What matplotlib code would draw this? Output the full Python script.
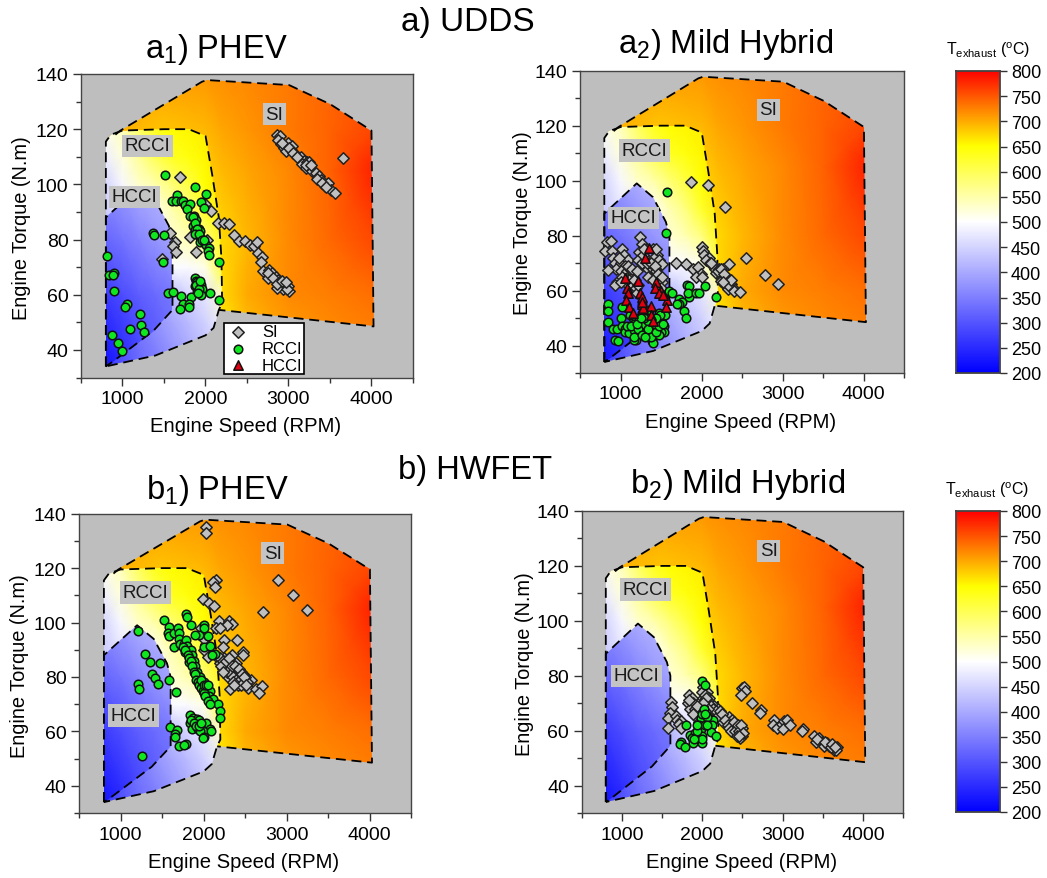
import numpy as np
import matplotlib
matplotlib.use("Agg")
import matplotlib.pyplot as plt
from matplotlib.colors import LinearSegmentedColormap
from matplotlib.path import Path
from matplotlib.ticker import MultipleLocator

W, H = 1047, 879
plt.rcParams['font.family'] = ['Liberation Sans', 'DejaVu Sans']
plt.rcParams['mathtext.fontset'] = 'custom'
plt.rcParams['mathtext.rm'] = 'Liberation Sans'
plt.rcParams['mathtext.it'] = 'Liberation Sans'
plt.rcParams['mathtext.default'] = 'regular'

# ---- temperature fields (deg C) ----
si_speed = [800, 1500, 2000, 2200, 2500, 3000, 3500, 4050]
si_torque = [45, 50, 60, 80, 105, 120, 140]
si_temp = [
    [650, 650, 650, 658, 682, 705, 718, 725],
    [650, 650, 650, 662, 690, 710, 720, 728],
    [650, 650, 650, 672, 700, 718, 725, 735],
    [650, 650, 660, 672, 692, 718, 738, 758],
    [665, 668, 678, 690, 702, 720, 742, 782],
    [700, 685, 692, 702, 712, 728, 742, 760],
    [708, 708, 712, 716, 720, 728, 740, 750],
]
rcci_speed = [800, 1000, 1200, 1400, 1600, 1800, 2000, 2250]
rcci_torque = [30, 40, 50, 60, 70, 80, 90, 100, 110, 120]
rcci_temp = [
    [260, 290, 320, 340, 365, 390, 420, 440],
    [270, 300, 330, 350, 375, 400, 430, 450],
    [290, 320, 345, 370, 395, 420, 445, 490],
    [320, 350, 375, 400, 420, 450, 470, 545],
    [360, 390, 415, 440, 495, 495, 515, 635],
    [400, 430, 450, 475, 525, 545, 575, 655],
    [440, 470, 485, 505, 545, 575, 625, 665],
    [450, 490, 530, 550, 580, 612, 648, 670],
    [480, 520, 560, 600, 630, 642, 655, 675],
    [510, 540, 590, 630, 650, 655, 660, 680],
]
hcci_speed = [800, 1000, 1200, 1400, 1650]
hcci_torque = [30, 40, 60, 80, 100]
hcci_temp = [
    [220, 235, 255, 275, 300],
    [235, 255, 280, 300, 325],
    [270, 290, 310, 325, 345],
    [320, 335, 355, 375, 395],
    [370, 385, 405, 415, 425],
]

# ---- combustion-regime boundaries (RPM, N.m) ----
si_boundary_speed = [915, 975, 1960, 2020, 3010, 3510, 4005, 4030, 2165]
si_boundary_torque = [118, 119.5, 137.2, 137.8, 136, 129, 119.5, 48.5, 54.5]
rcci_boundary_speed = [800, 800, 860, 1000, 1500, 1800, 2003, 2083, 2163, 2195, 2203, 2163, 2100, 2003, 1400, 800]
rcci_boundary_torque = [34, 115.5, 118, 119.5, 120, 120, 117.5, 103.5, 88, 73, 57, 54.5, 48, 45.3, 38, 34]
hcci_boundary_speed = [800, 800, 1200, 1400, 1560, 1604, 1604, 1376, 895, 800]
hcci_boundary_torque = [34, 88, 99, 94, 85, 80, 54.5, 47, 36, 34]

# ---- operating points ----
a1_si_speed = [2860, 2900, 2880, 2910, 2950, 3000, 3040, 2970, 3030, 3090, 3150, 3190, 3170, 3230, 3260, 3220, 3290, 3330,
               3370, 3390, 3440, 3480, 3520, 3570, 3665, 3250, 2155, 2230, 2290, 2350, 2410, 2480, 2540, 2590, 2620, 2640,
               2690, 2670, 2700, 2770, 2810, 2760, 2850, 2880, 2900, 2940, 2890, 2960, 3000, 2940, 3010, 2860, 1700, 2000,
               2070, 1570, 1640, 1610, 1650, 1480, 1810, 1890, 2020,
               2930, 3010, 3060, 3110, 3210, 3280, 3350, 3410, 3460, 2760, 2820, 2870, 2920, 2980, 2970]
a1_si_torque = [118, 117.5, 116, 114.5, 113, 115, 114, 112, 112.5, 110.5, 110, 108.5, 107.5, 108, 106.5, 106, 105, 104,
                103, 101.5, 99.5, 100.5, 98, 97, 109.5, 108, 86, 86, 85.5, 81.5, 79.5, 79.5, 78, 77.5, 79, 75,
                73.5, 72, 68.5, 69, 68, 66, 66.5, 65.5, 64.5, 64, 63.5, 63, 63, 62, 61.5, 62.5, 102.5, 93,
                90.5, 82.5, 79, 77.5, 75.5, 73, 81, 75.5, 80,
                115, 113, 111.5, 110, 107, 107, 102, 100.5, 99, 68, 66, 64, 65, 62, 64.5]
a1_rcci_speed = [1510, 1880, 2010, 1660, 1600, 1650, 1710, 1730, 1760, 1810, 1780, 1950, 1990, 1810, 1860, 1890, 1880, 1850,
                 1870, 1920, 1940, 1900, 1930, 1950, 1930, 1980, 2010, 2050, 2030, 2050, 2160, 1370, 1380, 1500, 1490, 810,
                 835, 895, 885, 900, 1060, 1030, 1210, 1230, 1260, 1090, 870, 945, 990, 1550, 1610, 1710, 1880, 1890,
                 1900, 1930, 1950, 1880, 1900, 1960, 1900, 1950, 2060, 1830, 1730, 1800, 1690, 1800, 2170,
                 1850, 1870, 1900, 1880, 1920, 1960, 1990, 1890, 1920, 1930, 1910]
a1_rcci_torque = [103.5, 99, 96.5, 96, 94, 94, 94, 94, 92.5, 93, 91, 93.5, 91.5, 88.5, 88.5, 87, 85, 85,
                  83.5, 84, 83, 82.5, 81, 79.5, 79, 79, 78, 77, 76, 74.5, 72, 82.5, 81.5, 81.5, 72, 74,
                  67, 68, 67, 61.5, 56.5, 55.5, 53, 49, 46.5, 47.5, 45.5, 42.5, 39.5, 60.5, 61, 59.5, 66, 65,
                  64.5, 64, 63.5, 63, 62.5, 62, 61, 60, 60.5, 59, 56.5, 56.5, 55, 55.5, 58,
                  88, 86, 84, 82, 82, 80, 80, 63.5, 62, 65, 60.5]
a1_hcci_speed = []
a1_hcci_torque = []

a2_si_speed = [1870, 2085, 2290, 2550, 2790, 2950, 2340, 1680, 1810, 1900, 1960, 1990, 1930, 2010, 2010, 2020, 2030, 2090,
               2060, 2100, 2150, 2170, 2180, 2210, 2230, 2250, 2270, 2240, 2300, 2310, 2350, 2290, 2370, 2390, 2330, 2400,
               2470, 830, 880, 810, 890, 1020, 910, 1060, 1040, 930, 1000, 1090, 1050, 950, 840, 1010, 1080, 1130,
               1160, 1100, 1180, 960, 930, 1020, 1050, 1150, 1190, 1200, 1240, 1260, 1230, 1310, 1220, 1260, 1400, 1450,
               1410, 1470, 1340, 1400, 1440, 1340, 1510, 1450, 1480, 1510, 1500, 1400, 1310,
               980, 1120, 1090, 1140, 1170, 1010, 1280, 1330, 1380, 1420, 1460, 1510, 1290, 1440, 1200, 1220,
               2120, 2200, 2240, 2280, 2330, 2360, 2270]
a2_si_torque = [99.5, 98.5, 90.5, 72, 65.5, 62.3, 69.5, 70, 69.5, 68, 68.5, 66, 65, 65, 76, 74.5, 73, 72,
                71, 70, 69, 68, 66.5, 68, 66.5, 65, 68, 63.5, 65, 63, 64, 62, 62.5, 61, 60.5, 60,
                59.3, 77.5, 78, 74.5, 74.5, 75, 72, 71, 73, 70, 70, 71, 69, 68, 67.5, 67, 67, 66,
                66, 64, 64, 63, 62, 65, 63, 62, 61, 59, 79.5, 77, 74, 72, 71, 70, 75, 73,
                72, 71, 68, 68, 67, 65, 69.5, 63, 65, 63, 61, 64, 75,
                72, 68, 69, 68, 64, 63, 73, 70, 70, 69, 66, 65, 75, 75, 67, 62,
                70, 67, 68, 66, 62, 64, 63]
a2_rcci_speed = [1575, 1565, 850, 850, 850, 1020, 1010, 910, 960, 1020, 1060, 1050, 1100, 1170, 1240, 1190, 1170, 930,
                 970, 1170, 1300, 1350, 1390, 1400, 1380, 1320, 1290, 1360, 1400, 1430, 1500, 1540, 1540, 1500, 1480, 1510,
                 1550, 1470, 1150, 1120, 1170, 1230, 1260, 1300, 1340, 1260, 1350, 1600, 1640, 1720, 1760, 1720, 1780, 1810,
                 1820, 1850, 1850, 1830, 1930, 1970, 2040, 2175, 1700,
                 1080, 1130, 1210, 1270, 1290, 1340, 1440, 1470, 1520, 1200, 1300, 1490, 1440, 1250]
a2_rcci_torque = [96, 81, 55, 52.5, 48.5, 54, 50, 46, 46, 47, 46, 45, 44.5, 45.5, 47.5, 42, 42, 42,
                  41.5, 43, 45, 44.5, 41.5, 41, 43, 47, 48, 49, 47, 48, 46, 47, 45, 45, 44, 50,
                  51, 52, 50, 51, 48, 50, 52, 51, 49, 55, 53, 60, 59, 57, 56, 55, 52.5, 50,
                  62, 61.5, 57.5, 59, 59, 59, 61.5, 57.5, 55,
                  47, 47, 46, 44, 50, 46, 45, 47, 48, 48, 43, 51, 50, 50]
a2_hcci_speed = [1350, 1300, 1050, 1080, 1220, 1440, 1430, 1500, 1470, 1090, 1070, 1240, 1260, 1570, 1100, 1270, 1280, 1380,
                 1560, 1160, 1380, 1400, 1530, 1270]
a2_hcci_torque = [75.5, 72, 64.5, 61, 63.5, 63, 61, 60, 59, 59, 56.5, 59, 57.5, 56.5, 54, 55, 53.5, 54.5,
                  54, 52, 51, 49, 58.5, 56]

b1_si_speed = [2030, 2030, 2150, 2110, 2140, 1990, 2070, 2130, 2900, 3080, 3250, 2720, 2190, 2310, 2340, 2280, 2150, 1970,
               2200, 2400, 2250, 2480, 2240, 2480, 2030, 2000, 2010, 2060, 2180, 2250, 2300, 2200, 2270, 2350, 2390, 2420,
               2240, 2310, 2360, 2450, 2480, 2290, 2400, 2440, 2520, 2570, 2420, 2470, 2540, 2320, 2630, 2700, 2670, 2500, 2340,
               2200, 2230, 2260, 2290, 2320, 2350, 2380, 2410, 2440, 2470, 2500, 2530, 2250, 2280, 2330, 2360, 2390, 2420,
               2450, 2210, 2230, 2270, 2310, 2340, 2380, 2430, 2460, 2490, 2510, 2350, 2370]
b1_si_torque = [135, 133, 115.5, 115, 113, 108.5, 107, 106, 115.5, 110, 104.5, 104, 100.5, 100.5, 99.5, 99, 98, 98,
                98, 93.5, 93.5, 89, 91, 88, 92, 94, 90, 87.5, 87, 87, 86, 85, 84, 85, 85, 83,
                83, 82, 82, 82, 81, 80, 80, 79, 79, 79, 77, 78, 76, 75.5, 75.5, 76.5, 74, 80, 88,
                87, 86, 85, 84, 85, 83, 82, 81, 80, 79, 78, 78, 83, 82, 81, 80, 79, 78,
                77, 84, 82, 86, 87, 84, 84, 83, 81, 80, 77, 78, 77]
b1_rcci_speed = [1210, 1300, 1350, 1480, 1380, 1420, 1450, 1585, 1210, 1225, 1670, 1260, 1520, 1580, 1570, 1590, 1650, 1690,
                 1710, 1640, 1700, 1720, 1770, 1790, 1800, 1780, 1850, 1860, 1880, 1830, 1880, 1900, 1920, 1940, 1960, 1960,
                 1990, 2020, 2010, 2040, 2040, 2080, 2070, 2110, 2170, 2200, 2200, 1790, 1800, 1850, 1950, 1900, 2010, 2010,
                 2060, 2000, 2080, 2140, 2100, 1840, 1870, 1920, 1950, 1840, 1890, 2030, 1960, 1860, 1930, 2080, 1990, 2090,
                 1960, 2000, 1990, 1600, 1680, 1660, 1660, 1710, 1790, 1760,
                 1750, 1780, 1810, 1830, 1850, 1860, 1880, 1900, 1910, 1930, 1950, 1970, 1990, 2000, 2020, 2050, 2080,
                 1970, 2000, 2030, 2060, 1850, 1880, 1910, 1940, 1970]
b1_rcci_torque = [97, 88.5, 85.5, 85, 81, 79.5, 77.5, 79, 77.5, 75.5, 74.5, 51, 101, 98.5, 96, 95, 96, 98,
                  96, 91, 94, 92, 92, 93.5, 91.5, 89, 90, 88, 86, 85.5, 84, 84, 82, 80, 80, 78,
                  77, 76, 78, 75, 73, 75, 73, 72, 70, 67.5, 65, 103, 102, 99, 95.5, 95.5, 99, 98,
                  95, 91, 91.5, 88.5, 88, 66, 65, 64.5, 64, 63, 62.5, 63, 62, 61, 61, 61, 60, 60,
                  60, 58, 57.5, 61.5, 60.5, 59, 58, 54.5, 55.5, 55,
                  91, 90, 88, 87, 86, 84, 82, 81, 79, 78, 77, 76, 75, 74, 73, 71, 70,
                  79, 77, 77, 77, 64, 63, 62, 62, 63]
b1_hcci_speed = []
b1_hcci_torque = []

b2_si_speed = [1610, 1630, 1600, 1580, 1670, 1690, 1740, 1710, 1580, 1740, 1830, 1870, 1820, 1880, 1850, 1910, 1940, 1970,
               1920, 2000, 1960, 2010, 2020, 2060, 2010, 2040, 2090, 2060, 2100, 2150, 2200, 2240, 2180, 2270, 2300, 2330,
               2350, 2370, 2400, 2430, 2480, 2500, 2450, 2490, 2470, 2500, 2520, 2530, 2480, 2620, 2730, 2720, 2890, 2880,
               2930, 2990, 3020, 3050, 3000, 3090, 3250, 3240, 3390, 3450, 3420, 3490, 3560, 3520, 3580, 3640, 3680, 3670,
               2110, 2130, 2170, 2190, 2220, 2250, 2260, 2290, 2320, 2340, 2360, 2390, 2410, 2440, 2460, 2480, 2510,
               2000, 2030, 2050, 2070, 2000, 2030, 2010, 1930, 1890, 1840, 2430, 2460, 3430, 3530, 3600, 3620, 3650]
b2_si_torque = [70.5, 68.5, 66.5, 64.5, 65.5, 64, 63.5, 62.5, 61, 61, 73, 72, 70, 70, 68, 68, 67, 68,
                65, 65, 63, 76, 74, 74, 72, 71, 72, 70, 70, 69, 68, 66, 66, 65, 64, 65,
                63, 64, 62, 61, 60, 61, 59, 58, 57.5, 75.5, 76, 74.5, 73, 70, 67.5, 66.5, 64, 62,
                61, 62.5, 63.5, 64, 60.5, 62, 60.5, 60, 58, 57.5, 56, 56, 55.5, 54.5, 54.5, 53, 54, 53,
                69, 68, 67, 65, 67, 66, 63, 64, 62, 61, 60, 63, 60, 62, 60, 62, 59,
                74, 73, 72, 68, 69, 67, 70, 69, 66, 71, 58, 58, 57, 56, 54, 55, 54]
b2_rcci_speed = [2000, 2040, 2130, 1990, 2060, 2120, 1800, 1960, 1990, 2030, 1850, 1910, 1870, 2000, 2110, 2170, 1740, 1720,
                 1890, 2000, 1790, 1930, 2000, 1930, 2060, 2000, 2020, 2040, 1900]
b2_rcci_torque = [78, 76.5, 64, 64.5, 65, 62, 62, 62, 60.5, 62, 58.5, 59, 57.5, 58, 59.5, 58, 56, 55,
                  55.5, 55.5, 54, 60, 57, 62, 62, 66, 68, 66, 57]
b2_hcci_speed = []
b2_hcci_torque = []

cbar_ticks = list(range(200, 801, 50))

cmap = LinearSegmentedColormap.from_list(
    "texh", [(0, "#0000ff"), (0.5, "#ffffff"), (0.75, "#ffff00"), (1, "#ff0000")], N=512)
norm = plt.Normalize(200, 800)

fig = plt.figure(figsize=(W / 100, H / 100), dpi=100)


def add_box(left, top, right, bottom):
    return fig.add_axes([left / W, 1 - bottom / H, (right - left) / W, (bottom - top) / H])


def fill_region(ax, sp, tq, temp, bs, bt):
    mesh = ax.pcolormesh(sp, tq, np.array(temp, float), cmap=cmap, norm=norm, shading='gouraud', zorder=1)
    mesh.set_clip_path(Path(np.column_stack([bs, bt])), ax.transData)


def panel(box, si, rcci, hcci, labels, label_at, title, title_xy, xl_xy, yl_xy, legend=False):
    ax = add_box(*box)
    ax.set_facecolor("#bebebe")
    ax.set_xlim(500, 4500)
    ax.set_ylim(30, 140)
    fill_region(ax, si_speed, si_torque, si_temp,
                si_boundary_speed + [rcci_boundary_speed[0]] + [800, 860],
                si_boundary_torque + [rcci_boundary_torque[0]] + [115.5, 118])
    fill_region(ax, rcci_speed, rcci_torque, rcci_temp, rcci_boundary_speed, rcci_boundary_torque)
    fill_region(ax, hcci_speed, hcci_torque, hcci_temp, hcci_boundary_speed, hcci_boundary_torque)
    dash = dict(color="black", lw=1.3, ls=(0, (5.5, 3.2)), zorder=2)
    ax.plot(si_boundary_speed, si_boundary_torque, **dash)
    ax.plot(rcci_boundary_speed, rcci_boundary_torque, **dash)
    ax.plot(hcci_boundary_speed, hcci_boundary_torque, **dash)
    for name, (x, y) in zip(labels, label_at):
        ax.text(x, y, name, fontsize=13.5, ha='center', va='center', color="#1a1a1a", zorder=3,
                bbox=dict(boxstyle='square,pad=0.14', fc="#c4c4c4", ec='none'))
    ax.scatter(si[0], si[1], marker='D', s=34, fc="#c0c0c0", ec="#222222", lw=1.1, zorder=4, label='SI')
    ax.scatter(rcci[0], rcci[1], marker='o', s=38, fc="#0fe81f", ec="#111111", lw=1.1, zorder=5, label='RCCI')
    ax.scatter(hcci[0], hcci[1], marker='^', s=46, fc="#e00010", ec="#111111", lw=1.1, zorder=6, label='HCCI')
    ax.xaxis.set_major_locator(MultipleLocator(1000))
    ax.xaxis.set_minor_locator(MultipleLocator(500))
    ax.yaxis.set_major_locator(MultipleLocator(20))
    ax.yaxis.set_minor_locator(MultipleLocator(10))
    ax.tick_params(which='major', length=6, width=1, labelsize=14, pad=3, color="#333333")
    ax.tick_params(which='minor', length=3.5, width=1, color="#333333")
    for s in ax.spines.values():
        s.set_color("#444444")
        s.set_linewidth(1)
    fig.text(title_xy[0] / W, 1 - title_xy[1] / H, title, fontsize=23.5, ha='center', va='baseline')
    fig.text(xl_xy[0] / W, 1 - xl_xy[1] / H, "Engine Speed (RPM)", fontsize=14.6, ha='center', va='center')
    fig.text(yl_xy[0] / W, 1 - yl_xy[1] / H, "Engine Torque (N.m)", fontsize=14.4, ha='center', va='center', rotation=90)
    if legend:
        ax.legend(loc='lower left', bbox_to_anchor=(0.43, 0.01), fontsize=12, frameon=True, fancybox=False,
                  edgecolor='black', framealpha=1, borderpad=0.1, labelspacing=0.1, handletextpad=0.7,
                  borderaxespad=0, handlelength=1.5).get_frame().set_linewidth(1.2)
    return ax


names = ['SI', 'RCCI', 'HCCI']
panel((81, 75, 412.5, 378.5), (a1_si_speed, a1_si_torque), (a1_rcci_speed, a1_rcci_torque), (a1_hcci_speed, a1_hcci_torque),
      names, [(2830, 125.5), (1300, 114), (1150, 95.5)], r"$a_1$) PHEV", (216, 58), (246, 427), (22, 228), legend=True)
panel((580, 71.7, 904, 374), (a2_si_speed, a2_si_torque), (a2_rcci_speed, a2_rcci_torque), (a2_hcci_speed, a2_hcci_torque),
      names, [(2825, 125.7), (1300, 111), (1157, 86.5)], r"$a_2$) Mild Hybrid", (726, 53), (741, 423), (523, 223))
panel((79, 514.7, 411, 814), (b1_si_speed, b1_si_torque), (b1_rcci_speed, b1_rcci_torque), (b1_hcci_speed, b1_hcci_torque),
      names, [(2833, 125.5), (1300, 111), (1160, 65.8)], r"$b_1$) PHEV", (217, 499), (244, 863), (20, 666))
panel((581.7, 512, 903, 814), (b2_si_speed, b2_si_torque), (b2_rcci_speed, b2_rcci_torque), (b2_hcci_speed, b2_hcci_torque),
      names, [(2827, 125.5), (1298, 111.4), (1182, 80)], r"$b_2$) Mild Hybrid", (738, 493), (742, 863), (524, 664))

fig.text(468 / W, 1 - 31 / H, "a) UDDS", fontsize=24, ha='center', va='baseline')
fig.text(475 / W, 1 - 479 / H, "b) HWFET", fontsize=23.5, ha='center', va='baseline')


def colorbar(box, title_xy):
    ax = add_box(*box)
    ax.imshow(np.linspace(800, 200, 512).reshape(-1, 1), aspect='auto', cmap=cmap, norm=norm,
              extent=[0, 1, 200, 800])
    ax.set_xticks([])
    ax.yaxis.tick_right()
    ax.set_yticks(cbar_ticks)
    ax.tick_params(axis='y', length=5, width=1, labelsize=13, pad=3, color="#333333")
    for s in ax.spines.values():
        s.set_color("#444444")
        s.set_linewidth(1.3)
    fig.text(title_xy[0] / W, 1 - title_xy[1] / H, r"T$_{exhaust}$ ($^{o}$C)", fontsize=11.5,
             ha='center', va='baseline')


colorbar((956, 72, 1000, 374), (988, 55))
colorbar((956, 512, 1000, 813), (987, 495))

fig.savefig("out.png", dpi=100)
